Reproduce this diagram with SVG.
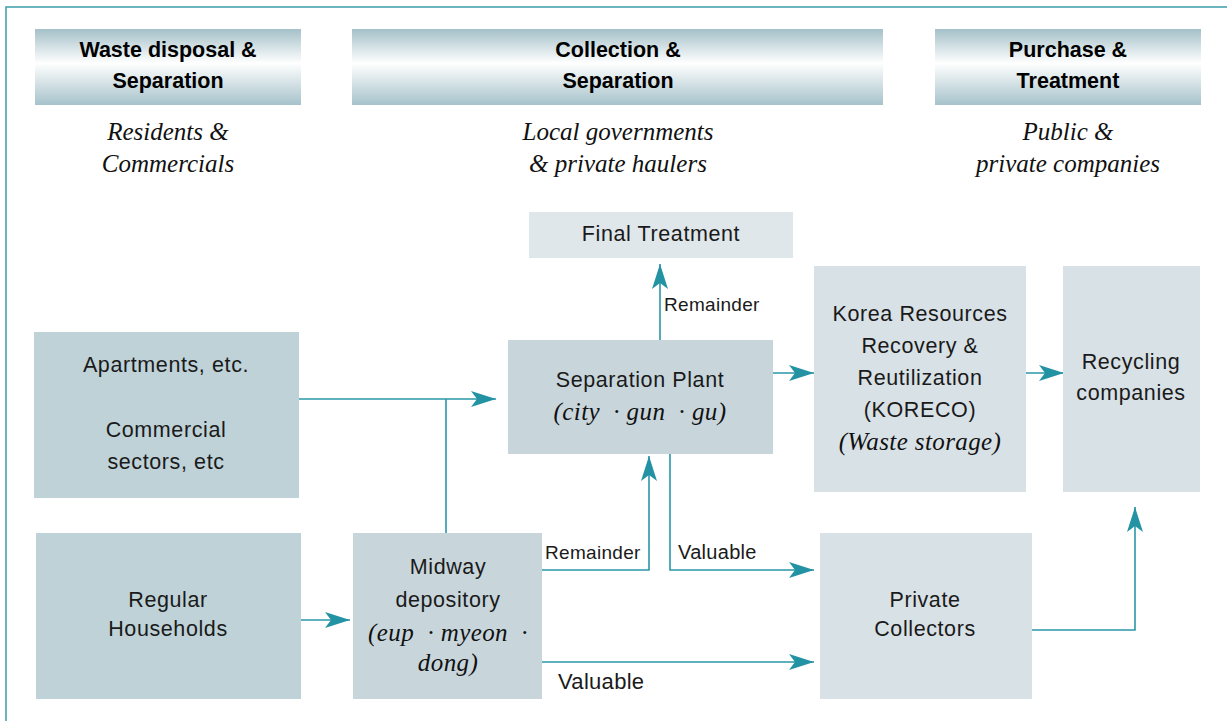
<svg xmlns="http://www.w3.org/2000/svg" width="1227" height="721" viewBox="0 0 1227 721">
  <defs>
    <linearGradient id="hdr" x1="0" y1="0" x2="0" y2="1">
      <stop offset="0" stop-color="#a4c0c8"/>
      <stop offset="0.45" stop-color="#ffffff"/>
      <stop offset="1" stop-color="#a6c2ca"/>
    </linearGradient>
    <marker id="arr" markerUnits="userSpaceOnUse" markerWidth="26" markerHeight="16" refX="25" refY="8" orient="auto">
      <path d="M0,0 L25,8 L0,16 L6,8 Z" fill="#2393a4"/>
    </marker>
    <style>
      .hdr { fill: url(#hdr); }
      .ht { font-family: "Liberation Sans", sans-serif; font-weight: bold; font-size: 21.5px; fill: #000; text-anchor: middle; }
      .sub { font-family: "Liberation Serif", serif; font-style: italic; font-size: 25px; fill: #111; text-anchor: middle; }
      .t { font-family: "Liberation Sans", sans-serif; font-size: 21.5px; letter-spacing: 0.6px; fill: #1a1a1a; text-anchor: middle; }
      .it { font-family: "Liberation Serif", serif; font-style: italic; font-size: 25px; letter-spacing: 0.4px; fill: #111; text-anchor: middle; }
      .lbl { font-family: "Liberation Sans", sans-serif; font-size: 19px; letter-spacing: 0.3px; fill: #1a1a1a; }
      .c { fill: none; stroke: #2a97a8; stroke-width: 1.6; }
      .a { marker-end: url(#arr); }
      .n1 { fill: #bfd2d8; }
      .n2 { fill: #c8d6dc; }
      .n3 { fill: #d8e1e6; }
      .n4 { fill: #dfe7ea; }
    </style>
  </defs>

  <rect width="1227" height="721" fill="#ffffff"/>
  <!-- outer frame -->
  <rect x="6" y="7" width="1240" height="740" fill="none" stroke="#3a9dab" stroke-width="1.5"/>

  <!-- column headers -->
  <g id="hdr-disposal">
    <rect class="hdr" x="35" y="29" width="266" height="76"/>
    <text class="ht" x="168" y="57">Waste disposal &amp;</text>
    <text class="ht" x="168" y="88">Separation</text>
    <text class="sub" x="168" y="140">Residents &amp;</text>
    <text class="sub" x="168" y="172">Commercials</text>
  </g>
  <g id="hdr-collection">
    <rect class="hdr" x="352" y="29" width="531" height="76"/>
    <text class="ht" x="618" y="57">Collection &amp;</text>
    <text class="ht" x="618" y="88">Separation</text>
    <text class="sub" x="618" y="140">Local governments</text>
    <text class="sub" x="618" y="172">&amp; private haulers</text>
  </g>
  <g id="hdr-purchase">
    <rect class="hdr" x="935" y="29" width="266" height="76"/>
    <text class="ht" x="1068" y="57">Purchase &amp;</text>
    <text class="ht" x="1068" y="88">Treatment</text>
    <text class="sub" x="1068" y="140">Public &amp;</text>
    <text class="sub" x="1068" y="172">private companies</text>
  </g>

  <!-- connectors -->
  <g id="connectors">
    <path class="c a" d="M299,399 H496"/>
    <path class="c" d="M446,533 V399"/>
    <path class="c a" d="M301,620 H350"/>
    <path class="c a" d="M660,340 V264"/>
    <path class="c a" d="M773,373 H814"/>
    <path class="c a" d="M1026,373 H1064"/>
    <path class="c a" d="M542,570 H649 V456"/>
    <path class="c a" d="M670,454 V570 H814"/>
    <path class="c a" d="M542,662 H814"/>
    <path class="c a" d="M1032,630 H1135 V507"/>
    <text class="lbl" x="664" y="311">Remainder</text>
    <text class="lbl" x="545" y="559">Remainder</text>
    <text class="lbl" x="678" y="559" style="font-size:20px">Valuable</text>
    <text class="lbl" x="558" y="689" style="font-size:22px">Valuable</text>
  </g>

  <!-- nodes -->
  <g id="apartments">
    <rect class="n1" x="34" y="332" width="265" height="166"/>
    <text class="t" x="166" y="372">Apartments, etc.</text>
    <text class="t" x="166" y="437">Commercial</text>
    <text class="t" x="166" y="469">sectors, etc</text>
  </g>
  <g id="households">
    <rect class="n1" x="36" y="533" width="265" height="166"/>
    <text class="t" x="168" y="607">Regular</text>
    <text class="t" x="168" y="636">Households</text>
  </g>
  <g id="midway">
    <rect class="n2" x="353" y="533" width="189" height="166"/>
    <text class="t" x="448" y="574">Midway</text>
    <text class="t" x="448" y="607">depository</text>
    <text class="it" x="448" y="641" xml:space="preserve">(eup  · myeon  ·</text>
    <text class="it" x="448" y="671">dong)</text>
  </g>
  <g id="separation-plant">
    <rect class="n2" x="508" y="340" width="265" height="114"/>
    <text class="t" x="640" y="387">Separation Plant</text>
    <text class="it" x="640" y="420" xml:space="preserve">(city  · gun  · gu)</text>
  </g>
  <g id="final-treatment">
    <rect class="n4" x="529" y="212" width="264" height="46"/>
    <text class="t" x="661" y="241">Final Treatment</text>
  </g>
  <g id="koreco">
    <rect class="n3" x="814" y="266" width="212" height="226"/>
    <text class="t" x="920" y="321">Korea Resources</text>
    <text class="t" x="920" y="353">Recovery &amp;</text>
    <text class="t" x="920" y="385">Reutilization</text>
    <text class="t" x="920" y="417">(KORECO)</text>
    <text class="it" x="920" y="450">(Waste storage)</text>
  </g>
  <g id="recycling">
    <rect class="n3" x="1063" y="266" width="137" height="226"/>
    <text class="t" x="1131" y="369">Recycling</text>
    <text class="t" x="1131" y="400">companies</text>
  </g>
  <g id="private-collectors">
    <rect class="n3" x="820" y="533" width="212" height="166"/>
    <text class="t" x="925" y="607">Private</text>
    <text class="t" x="925" y="636">Collectors</text>
  </g>
</svg>
